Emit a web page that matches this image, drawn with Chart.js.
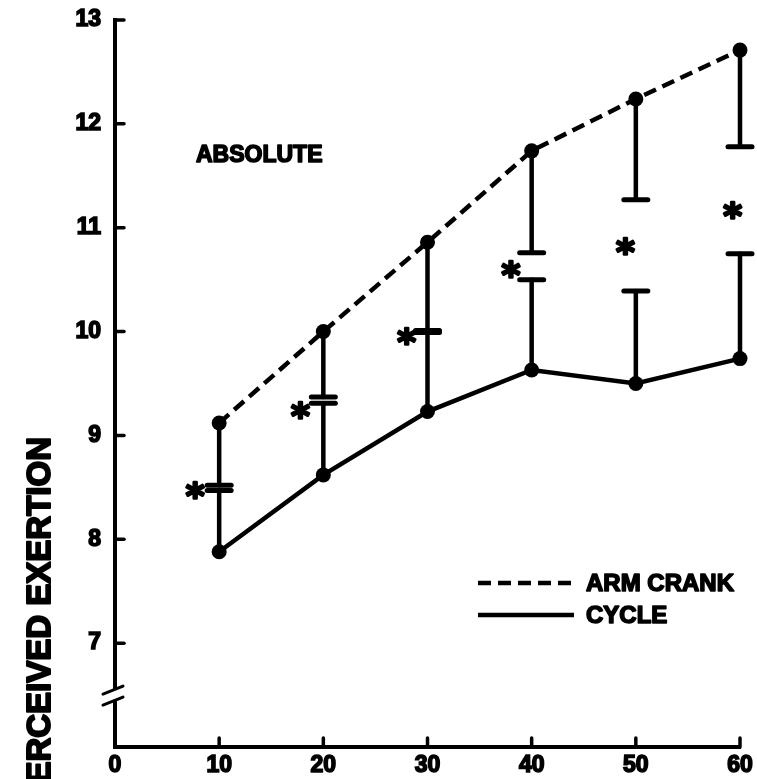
<!DOCTYPE html>
<html>
<head>
<meta charset="utf-8">
<script src="https://cdn.jsdelivr.net/npm/chart.js@4"></script>
<style>
  html, body { margin: 0; padding: 0; background: #fff; }
  #wrap { width: 757px; height: 779px; }
</style>
</head>
<body>
<div id="wrap"><canvas id="chart"></canvas></div>
<script>
// ---- data ----
const workloads = [10, 20, 30, 40, 50, 60];
const armCrank = [9.12, 10.0, 10.86, 11.74, 12.24, 12.71];
const cycle = [7.88, 8.62, 9.23, 9.63, 9.50, 9.74];
// lower end of arm crank SD bars, upper end of cycle SD bars
const armLower = [8.52, 9.37, 10.01, 10.76, 11.27, 11.78];
const cycleUpper = [8.47, 9.31, 9.99, 10.50, 10.39, 10.75];
// significance asterisks (x, y in data units)
const starX = [7.7, 17.8, 28.0, 38.0, 49.0, 59.3];
const starY = [8.47, 9.24, 9.95, 10.6, 10.82, 11.17];
const yTicks = [7, 8, 9, 10, 11, 12, 13];
const xTicks = [0, 10, 20, 30, 40, 50, 60];

const INK = '#000';
const FAMILY = "'Liberation Sans', Arial, sans-serif";

const pts = arr => workloads.map((x, i) => ({ x: x, y: arr[i] }));

// heavy text: fill plus a thin stroke to get the black poster weight
function boldText(ctx, s, x, y, w) {
  ctx.lineWidth = w || 1.6;
  ctx.lineJoin = 'round';
  ctx.strokeText(s, x, y);
  ctx.fillText(s, x, y);
}

// error bars, inward ticks, axis break, asterisks, legend, labels
const decorations = {
  id: 'decorations',
  afterDatasetsDraw(chart) {
    const { ctx, scales: { x, y } } = chart;
    ctx.save();
    ctx.strokeStyle = INK;
    ctx.fillStyle = INK;
    ctx.lineCap = 'round';

    // SD bars
    const cap = 12;
    const bar = (xv, from, to) => {
      const px = x.getPixelForValue(xv);
      const y0 = y.getPixelForValue(from), y1 = y.getPixelForValue(to);
      ctx.lineWidth = 4.5;
      ctx.beginPath(); ctx.moveTo(px, y0); ctx.lineTo(px, y1); ctx.stroke();
      ctx.lineWidth = 5;
      ctx.beginPath(); ctx.moveTo(px - cap, y1); ctx.lineTo(px + cap, y1); ctx.stroke();
    };
    workloads.forEach((xv, i) => {
      bar(xv, armCrank[i], armLower[i]);
      bar(xv, cycle[i], cycleUpper[i]);
    });

    // asterisks
    ctx.font = "bold 36px 'DejaVu Sans', sans-serif";
    ctx.textAlign = 'center';
    ctx.textBaseline = 'alphabetic';
    const m = ctx.measureText('*');
    const off = (m.actualBoundingBoxAscent - m.actualBoundingBoxDescent) / 2;
    starX.forEach((sx, i) => {
      boldText(ctx, '*', x.getPixelForValue(sx), y.getPixelForValue(starY[i]) + off, 2.5);
    });
    ctx.restore();
  },
  afterDraw(chart) {
    const { ctx, scales: { x, y }, chartArea: a } = chart;
    ctx.save();
    ctx.strokeStyle = INK;
    ctx.fillStyle = INK;
    ctx.lineCap = 'round';
    ctx.lineWidth = 3.5;

    // inward ticks
    yTicks.forEach(v => {
      const py = y.getPixelForValue(v);
      ctx.beginPath(); ctx.moveTo(a.left, py); ctx.lineTo(a.left + 9, py); ctx.stroke();
    });
    xTicks.slice(1).forEach(v => {
      const px = x.getPixelForValue(v);
      ctx.beginPath(); ctx.moveTo(px, a.bottom); ctx.lineTo(px, a.bottom - 9); ctx.stroke();
    });

    // axis break
    const yb = y.getPixelForValue(6.5);
    ctx.fillStyle = '#fff';
    ctx.fillRect(a.left - 4, yb - 6, 8, 12);
    ctx.lineWidth = 3;
    ctx.beginPath();
    ctx.moveTo(a.left - 12, yb - 1); ctx.lineTo(a.left + 8, yb - 9);
    ctx.moveTo(a.left - 12, yb + 10); ctx.lineTo(a.left + 8, yb + 2);
    ctx.stroke();

    // panel label
    ctx.fillStyle = INK;
    ctx.font = 'bold 23px ' + FAMILY;
    ctx.textAlign = 'left';
    ctx.textBaseline = 'middle';
    boldText(ctx, 'ABSOLUTE', 196, 156);

    // legend
    ctx.lineWidth = 4.5;
    ctx.lineCap = 'butt';
    ctx.setLineDash([13, 7]);
    ctx.beginPath(); ctx.moveTo(478, 583); ctx.lineTo(574, 583); ctx.stroke();
    ctx.setLineDash([]);
    ctx.beginPath(); ctx.moveTo(478, 615); ctx.lineTo(574, 615); ctx.stroke();
    ctx.font = 'bold 24px ' + FAMILY;
    boldText(ctx, 'ARM CRANK', 586, 584);
    boldText(ctx, 'CYCLE', 586, 616);

    // y-axis title (cut off at the page edge as in the figure)
    ctx.translate(50, 437);
    ctx.rotate(-Math.PI / 2);
    ctx.font = 'bold 33px ' + FAMILY;
    ctx.textAlign = 'right';
    ctx.textBaseline = 'alphabetic';
    boldText(ctx, 'PERCEIVED EXERTION', 0, 0, 2);
    ctx.restore();
  }
};

const tickFont = { family: FAMILY, size: 23, weight: 'bold' };

new Chart(document.getElementById('chart'), {
  type: 'line',
  data: {
    datasets: [
      {
        label: 'ARM CRANK',
        data: pts(armCrank),
        borderColor: INK,
        borderWidth: 4.5,
        borderDash: [13, 7],
        pointRadius: 7.5,
        pointBackgroundColor: INK,
        pointBorderWidth: 0,
        tension: 0,
        fill: false,
        clip: false,
      },
      {
        label: 'CYCLE',
        data: pts(cycle),
        borderColor: INK,
        borderWidth: 4.5,
        pointRadius: 7.5,
        pointBackgroundColor: INK,
        pointBorderWidth: 0,
        tension: 0,
        fill: false,
        clip: false,
      }
    ]
  },
  options: {
    responsive: true,
    maintainAspectRatio: false,
    animation: false,
    layout: { padding: { top: 20, right: 17, left: 0, bottom: 0 } },
    plugins: { legend: { display: false }, tooltip: { enabled: false } },
    scales: {
      x: {
        type: 'linear',
        min: 0, max: 60,
        afterFit: s => { s.height = 32; s.paddingLeft = 0; s.paddingRight = 0; },
        afterBuildTicks: s => { s.ticks = xTicks.map(v => ({ value: v })); },
        grid: { display: false, drawTicks: false },
        border: { color: INK, width: 4 },
        ticks: { color: INK, font: tickFont, padding: 5, maxRotation: 0,
                 textStrokeColor: INK, textStrokeWidth: 1.6 }
      },
      y: {
        min: 6, max: 13,
        afterFit: s => { s.width = 115; s.paddingTop = 0; s.paddingBottom = 0; },
        afterBuildTicks: s => { s.ticks = yTicks.map(v => ({ value: v })); },
        grid: { display: false, drawTicks: false },
        border: { color: INK, width: 4 },
        ticks: { color: INK, font: tickFont, padding: 14,
                 textStrokeColor: INK, textStrokeWidth: 1.6 }
      }
    }
  },
  plugins: [decorations]
});
</script>
</body>
</html>
